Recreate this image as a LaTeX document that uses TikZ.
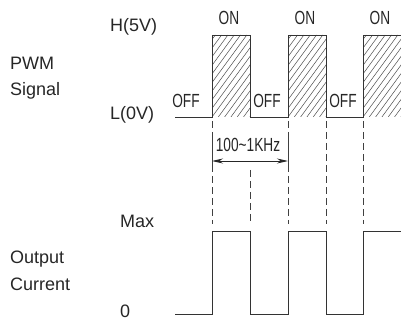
\documentclass[tikz,border=0pt]{standalone}
\usepackage{fontspec}
\setmainfont{Liberation Sans}
\usetikzlibrary{arrows.meta}
\tikzset{
  lbl/.style={inner sep=0pt, anchor=base west, font=\fontsize{18}{20}\selectfont, text=black!85},
  cnd/.style={inner sep=0pt, anchor=base, font=\fontsize{19}{20}\selectfont, text=black!85},
  wave/.style={line width=0.9pt, draw=black!80},
  hatch/.style={line width=0.5pt, draw=black!70},
  guide/.style={line width=0.7pt, draw=black!75, dash pattern=on 7pt off 4pt},
  ext/.style={line width=0.7pt, draw=black!75},
  dim/.style={line width=0.9pt, draw=black!85, {Stealth[length=11pt,width=5pt]}-{Stealth[length=11pt,width=5pt]}}
}
\newcommand{\cnd}[1]{\scalebox{0.72}[1]{#1}}
\begin{document}
\begin{tikzpicture}[x=1pt,y=-1pt]
\useasboundingbox (0,0) rectangle (401,320);
% left labels
\node[lbl] (h5) at (110,32) {H(5V)};
\node[lbl] (pwm) at (10,70) {PWM};
\node[lbl] (sig) at (10,96) {Signal};
\node[lbl] (l0) at (110,120) {L(0V)};
\node[lbl] (max) at (120,227) {Max};
\node[lbl] (out) at (10,263) {Output};
\node[lbl] (cur) at (10,290) {Current};
\node[lbl] (zero) at (120,317) {0};
% ON / OFF
\node[cnd] (on1) at (229,25) {\cnd{ON}};
\node[cnd] (on2) at (305,25) {\cnd{ON}};
\node[cnd] (on3) at (380,25) {\cnd{ON}};
\node[cnd] (off1) at (186,108) {\cnd{OFF}};
\node[cnd] (off2) at (267,108) {\cnd{OFF}};
\node[cnd] (off3) at (343,108) {\cnd{OFF}};
% hatching
\foreach \a/\b in {212/250, 288/326, 363/401} {
  \begin{scope}
    \clip (\a,35) rectangle (\b,117);
    \foreach \i in {-14,...,9} {
      \draw[hatch] (\a+\i*6.3,117) -- ++(60,-82);
    }
  \end{scope}
}
% PWM waveform
\draw[wave] (175,117) -- (212,117) -- (212,35) -- (250,35) -- (250,117) -- (288,117) -- (288,35) -- (326,35) -- (326,117) -- (363,117) -- (363,35) -- (401,35);
% output waveform
\draw[wave] (175,314) -- (212,314) -- (212,231) -- (250,231) -- (250,314) -- (288,314) -- (288,231) -- (326,231) -- (326,314) -- (363,314) -- (363,231) -- (401,231);
% guides
\coordinate (g1t) at (212,121); \coordinate (g1m) at (212,133); \coordinate (g1n) at (212,165); \coordinate (g1b) at (212,224);
\coordinate (g3t) at (288,121); \coordinate (g3m) at (288,133); \coordinate (g3n) at (288,165); \coordinate (g3b) at (288,224);
\draw[guide] (g1t) -- (g1m); \draw[ext] (g1m) -- (g1n); \draw[guide] (g1n) -- (g1b);
\draw[guide] (g3t) -- (g3m); \draw[ext] (g3m) -- (g3n); \draw[guide] (g3n) -- (g3b);
\coordinate (g2t) at (250,170); \coordinate (g2b) at (250,224);
\draw[guide] (g2t) -- (g2b);
\coordinate (g4t) at (326,121); \coordinate (g4b) at (326,224);
\draw[guide] (g4t) -- (g4b);
\coordinate (g5t) at (363,121); \coordinate (g5b) at (363,224);
\draw[guide] (g5t) -- (g5b);
% dimension
\coordinate (d1) at (212,161); \coordinate (d2) at (288,161);
\draw[dim] (d1) -- (d2);
\node[cnd] (freq) at (248,152) {\cnd{100\textasciitilde 1KHz}};
\end{tikzpicture}
\end{document}
